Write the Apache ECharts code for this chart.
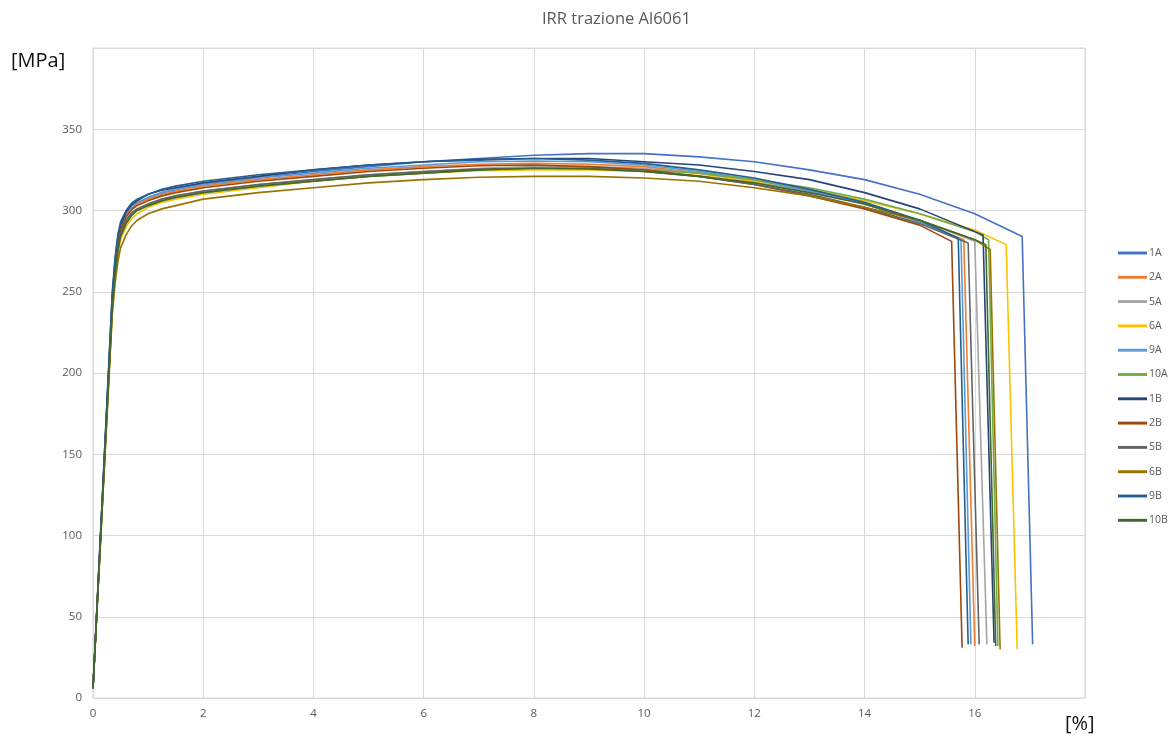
<!DOCTYPE html>
<html>
<head>
<meta charset="utf-8">
<title>IRR trazione Al6061</title>
<script src="https://cdn.jsdelivr.net/npm/echarts@6/dist/echarts.min.js"></script>
<style>
  html, body { margin: 0; padding: 0; background: #fff; }
  #chart { width: 1172px; height: 742px; }
</style>
</head>
<body>
<div id="chart"></div>
<script>
// nomi dei provini e colori (palette Excel)
const names = ["1A", "2A", "5A", "6A", "9A", "10A", "1B", "2B", "5B", "6B", "9B", "10B"];
const colors = ["#4472C4", "#ED7D31", "#A5A5A5", "#FFC000", "#5B9BD5", "#70AD47",
                "#264478", "#9E480E", "#636363", "#997300", "#255E91", "#43682B"];

// deformazione [%] comune per il tratto iniziale
const strain = [0, 0.35, 0.4, 0.45, 0.5, 0.6, 0.7, 0.8, 1, 1.25, 1.5, 2, 3, 4, 5, 6, 7, 8, 9, 10, 11, 12, 13, 14, 15];

// tensione [MPa] per ogni provino sui punti di strain
const s1A  = [6, 245, 266, 280, 289, 297, 301.5, 304, 308, 311, 313, 316, 320, 324, 327, 330, 332, 334, 335, 335, 333, 330, 325, 319, 310];
const s2A  = [6, 244, 265, 279, 288, 297, 301, 304, 307, 310, 312, 315, 319, 322, 325, 327, 328.5, 329, 328.5, 327, 323, 318, 312, 304, 293];
const s5A  = [6, 242, 263, 277, 286, 294, 298.5, 301, 304, 307, 309, 312, 316, 319, 322, 324, 326, 327, 327, 326, 323, 318, 312, 304, 294];
const s6A  = [6, 238, 259, 272, 282, 290, 295, 298, 302, 305, 307, 310, 314, 318, 321, 323, 324.5, 325, 325, 324, 321.5, 318, 313, 306, 298];
const s9A  = [6, 246, 267, 281, 290, 298, 302.5, 305, 308, 311, 313, 316, 320, 323, 326, 328, 330, 330.5, 330, 328, 324, 319, 312, 304, 293];
const s10A = [6, 240, 261, 275, 284, 292, 297, 300, 303, 306, 308, 311, 315, 318, 321, 323, 325, 326, 326, 325, 323, 319, 314, 307, 298];
const s1B  = [6, 248, 269, 283, 291, 299, 303.5, 306, 310, 312.5, 314, 317, 321, 325, 328, 330, 331.5, 332, 332, 330, 328, 324, 319, 311, 301];
const s2B  = [6, 244, 265, 279, 288, 296, 300.5, 303, 306, 309, 311, 314, 318, 321, 324, 326, 327.5, 328, 327, 325, 321, 316, 309, 301, 291];
const s5B  = [6, 242, 263, 277, 286, 294, 298.5, 301, 304, 307, 309, 312, 316, 319, 322, 324, 325.5, 326, 326, 324, 321, 316, 310, 302, 292];
const s6B  = [6, 236, 255, 268, 277, 285, 290.5, 294, 298, 301, 303, 307, 311, 314, 317, 319, 320.5, 321, 321, 320, 318, 314, 309, 302, 294];
const s9B  = [6, 250, 271, 285, 293, 300, 304.5, 307, 310, 313, 315, 318, 322, 325, 328, 330, 331, 332, 331, 329, 325, 320, 313, 305, 294];
const s10B = [6, 240, 261, 275, 284, 292, 297, 300, 303, 306, 308, 311, 315, 318, 321, 323, 325, 326, 325.5, 324, 321, 317, 311, 304, 294];

// tratto finale: [strain, stress] dopo 15% fino alla rottura
const tail1A  = [[16, 298], [16.86, 284], [17.05, 33]];
const tail2A  = [[15.8, 282], [16.0, 32]];
const tail5A  = [[16, 281], [16.03, 280], [16.22, 33]];
const tail6A  = [[16, 288], [16.57, 279], [16.77, 30]];
const tail9A  = [[15.75, 282], [15.93, 33]];
const tail10A = [[16, 287], [16.25, 282], [16.42, 32]];
const tail1B  = [[16, 287], [16.15, 285], [16.35, 34]];
const tail2B  = [[15.58, 281], [15.77, 31]];
const tail5B  = [[15.88, 280], [16.08, 33]];
const tail6B  = [[16, 282], [16.28, 276], [16.46, 30]];
const tail9B  = [[15.7, 283], [15.88, 33]];
const tail10B = [[16, 282], [16.2, 279], [16.38, 32]];

const stresses = [s1A, s2A, s5A, s6A, s9A, s10A, s1B, s2B, s5B, s6B, s9B, s10B];
const tails = [tail1A, tail2A, tail5A, tail6A, tail9A, tail10A, tail1B, tail2B, tail5B, tail6B, tail9B, tail10B];

// assi
const xTicks = { min: 0, max: 18, interval: 2 };
const yTicks = { min: 0, max: 400, interval: 50 };

const fontFamily = "'Open Sans', 'Noto Sans', sans-serif";

const chart = echarts.init(document.getElementById("chart"));

const series = names.map((name, i) => ({
  name: name,
  type: "line",
  symbol: "none",
  data: strain.map((e, k) => [e, stresses[i][k]]).concat(tails[i]),
  lineStyle: { width: 1.6, color: colors[i] },
  itemStyle: { color: colors[i] },
  emphasis: { disabled: true }
}));

const option = {
  animation: false,
  textStyle: { fontFamily: fontFamily },
  title: {
    text: "IRR trazione Al6061",
    left: 537,
    top: 6,
    textStyle: { fontSize: 16.5, fontWeight: "normal", color: "#595959", fontFamily: fontFamily }
  },
  legend: {
    orient: "vertical",
    left: 1113,
    top: 241,
    itemWidth: 29,
    itemHeight: 10,
    itemGap: 10.3,
    icon: "path://M0,0 L10,0 L10,1 L0,1 Z",
    textStyle: { fontSize: 10.5, color: "#595959", padding: [0, 0, 0, -3], lineHeight: 14 },
    data: names
  },
  grid: {
    left: 93,
    right: 87,
    top: 48,
    bottom: 44,
    show: true,
    borderColor: "#d9d9d9",
    borderWidth: 1
  },
  xAxis: {
    type: "value",
    min: xTicks.min,
    max: xTicks.max,
    interval: xTicks.interval,
    axisLine: { show: true, lineStyle: { color: "#d9d9d9" } },
    axisTick: { show: false },
    splitLine: { show: true, lineStyle: { color: "#d9d9d9" } },
    axisLabel: { color: "#595959", fontSize: 11.5, margin: 10, showMaxLabel: false }
  },
  yAxis: {
    type: "value",
    min: yTicks.min,
    max: yTicks.max,
    interval: yTicks.interval,
    axisLine: { show: true, lineStyle: { color: "#d9d9d9" } },
    axisTick: { show: false },
    splitLine: { show: true, lineStyle: { color: "#d9d9d9" } },
    axisLabel: { color: "#595959", fontSize: 11.5, margin: 11, showMaxLabel: false }
  },
  graphic: [
    {
      type: "text",
      left: 11,
      top: 51,
      style: { text: "[MPa]", fontSize: 20, fill: "#111", fontFamily: fontFamily }
    },
    {
      type: "text",
      left: 1065,
      top: 714,
      style: { text: "[%]", fontSize: 20, fill: "#111", fontFamily: fontFamily }
    }
  ],
  series: series
};

chart.setOption(option);
</script>
</body>
</html>
